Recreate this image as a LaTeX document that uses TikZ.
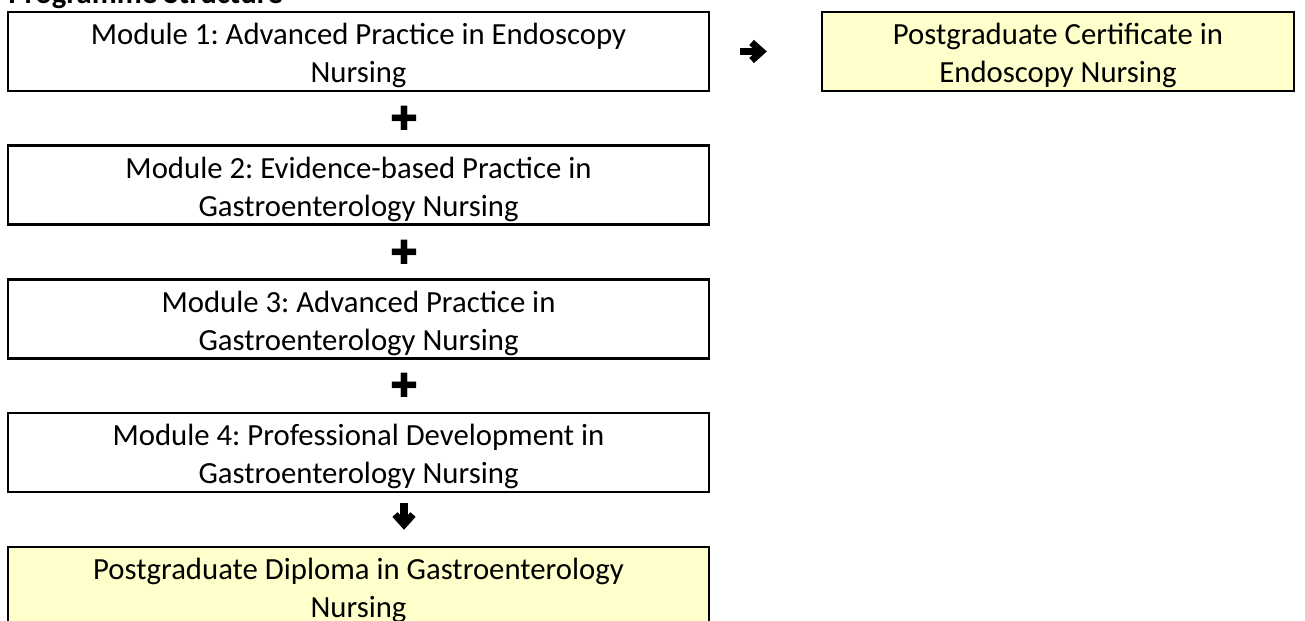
\documentclass[tikz,border=0pt]{standalone}
\usepackage{fontspec}
\setmainfont{Carlito}
\newfontfamily\symfont{DejaVu Sans}
\usetikzlibrary{arrows.meta, positioning}
\definecolor{awardyellow}{RGB}{255, 255, 204}
\frenchspacing
\newcommand{\firstline}{\rule{0pt}{17pt}}
\tikzset{
    module/.style={
        rectangle, draw=black, line width=1.4pt, minimum width=14.02cm, minimum height=1.58cm,
        inner sep=0pt, align=center, font=\fontsize{17.5}{21.5}\selectfont
    },
    award/.style={module, fill=awardyellow},
    plus/.style={inner sep=0pt, font=\symfont\fontsize{19}{19}\selectfont},
    conn/.style={-{Straight Barb[length=0.2cm, width=0.36cm]}, line width=4pt},
}

\begin{document}
\begin{tikzpicture}[x=0.02cm, y=-0.02cm]
    \useasboundingbox (0, 0) rectangle (1305, 621);

    \node[anchor=base west, inner sep=0pt, font=\fontsize{17.5}{21.5}\selectfont\bfseries] (title) at (8, 4) {Programme Structure};

    \node[module] (mod1) at (358.5, 51.5) {\firstline Module 1: Advanced Practice in Endoscopy\\Nursing};
    \node[award, minimum width=9.44cm] (cert) at (1058, 51.5) {\firstline Postgraduate Certificate in\\Endoscopy Nursing};
    \node[plus] (plus1) at (404, 118) {✚};
    \node[module] (mod2) at (358.5, 185.2) {\firstline Module 2: Evidence-based Practice in\\Gastroenterology Nursing};
    \node[plus] (plus2) at (404, 252) {✚};
    \node[module] (mod3) at (358.5, 318.9) {\firstline Module 3: Advanced Practice in\\Gastroenterology Nursing};
    \node[plus] (plus3) at (404, 385.7) {✚};
    \node[module] (mod4) at (358.5, 452.5) {\firstline Module 4: Professional Development in\\Gastroenterology Nursing};
    \node[award] (dipl) at (358.5, 586.5) {\firstline Postgraduate Diploma in Gastroenterology\\Nursing};

    \coordinate (down) at (404, 0);
    \draw[conn, shorten <=0.6cm, shorten >=1.08cm] (mod1) -- (cert);
    \draw[conn, shorten <=0.2cm, shorten >=0.32cm] (mod4.south -| down) -- (dipl.north -| down);
\end{tikzpicture}
\end{document}
